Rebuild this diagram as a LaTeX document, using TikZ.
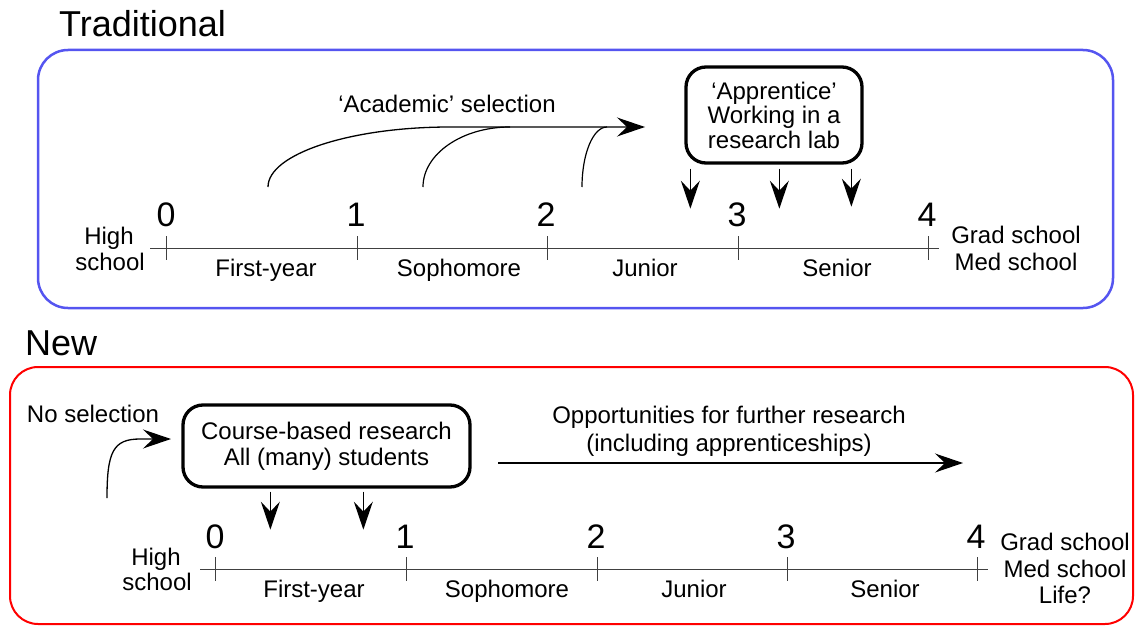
\documentclass[tikz,border=0pt]{standalone}
\usepackage{fontspec}
\setmainfont{Liberation Sans}
\usetikzlibrary{arrows.meta}
\definecolor{framblue}{RGB}{85,85,240}
\definecolor{framred}{RGB}{255,0,0}
\begin{document}
\begin{tikzpicture}[x=1pt,y=-1pt,
  lbl/.style={inner sep=0pt, anchor=base, font=\fontsize{24}{28}\selectfont},
  big/.style={inner sep=0pt, anchor=base west, font=\fontsize{36}{40}\selectfont},
  digit/.style={inner sep=0pt, anchor=base, font=\fontsize{34}{38}\selectfont},
  tline/.style={line width=1pt, draw=black!75},
  arr/.style={line width=1.3pt, -{Stealth[length=28pt,width=19pt,inset=10pt]}},
  curve/.style={line width=1.2pt},
  thickbox/.style={draw, line width=3.3pt, rounded corners=20pt, inner sep=0pt, align=center}]
\useasboundingbox (0,0) rectangle (1135,626);

% frames
\draw[framblue, line width=2.5pt, rounded corners=30pt] (38,50) rectangle (1113,308);
\draw[framred, line width=2pt, rounded corners=28pt] (10,367) rectangle (1133,624);

\node[big] (trad) at (59,37) {Traditional};
\node[big] (new) at (25,355) {New};

% ---------- Traditional ----------
\draw[tline] (150,248) -- (939,248);
\foreach \x in {166,357,547,738,928} \draw[tline] (\x,236) -- (\x,260);
\node[digit] (ta0) at (166,226) {0};
\node[digit] (ta1) at (356,226) {1};
\node[digit] (ta2) at (546,226) {2};
\node[digit] (ta3) at (737,226) {3};
\node[digit] (ta4) at (927,226) {4};
\node[lbl] (tfy) at (266,276) {First-year};
\node[lbl] (tso) at (459,276) {Sophomore};
\node[lbl] (tju) at (645,276) {Junior};
\node[lbl] (tse) at (837,276) {Senior};
\node[lbl] (thi1) at (109,244) {High};
\node[lbl] (thi2) at (110,270) {school};
\node[lbl] (tgr1) at (1016,243) {Grad school};
\node[lbl] (tgr2) at (1016,270) {Med school};

\node[lbl] (acad) at (447,112) {`Academic' selection};
\coordinate (c1) at (268,187);
\coordinate (c2) at (423,187);
\coordinate (c3) at (582,187);
\coordinate (tipA) at (645,127);
\draw[arr] (c1) .. controls (268,154) and (350,127) .. (450,127) -- (tipA);
\draw[curve] (c2) .. controls (423,154) and (462,127) .. (510,127);
\draw[curve] (c3) .. controls (582,154) and (593,127) .. (607,127);

\node[thickbox, minimum width=176pt, minimum height=96pt, font=\fontsize{24}{24.5}\selectfont] (appr) at (774,115) {`Apprentice'\\Working in a\\research lab};
\draw[arr] ([xshift=6pt,yshift=-4pt]appr.south west) -- ++(0,40);
\draw[arr] ([xshift=95pt,yshift=-4pt]appr.south west) -- ++(0,40);
\draw[arr] ([xshift=167pt,yshift=-4pt]appr.south west) -- ++(0,38);

% ---------- New ----------
\node[lbl] (nosel) at (93,422) {No selection};
\node[thickbox, minimum width=287pt, minimum height=82pt, font=\fontsize{24}{26}\selectfont] (course) at (326.5,446) {Course-based research\\All (many) students};
\coordinate (ns) at (107,498);
\coordinate (tipN) at (171,439);
\draw[arr] (ns) .. controls (107,452) and (113,439) .. (140,439) -- (tipN);
\draw[arr] ([xshift=89pt,yshift=-3pt]course.south west) -- ++(0,38);
\draw[arr] ([xshift=182pt,yshift=-3pt]course.south west) -- ++(0,38);

\node[lbl] (opp1) at (729,423) {Opportunities for further research};
\node[lbl] (opp2) at (729,451) {(including apprenticeships)};
\coordinate (oa) at (498,463);
\coordinate (ob) at (963,463);
\draw[arr] (oa) -- (ob);

\draw[tline] (200,569) -- (988,569);
\foreach \x in {215,406,597,787,977} \draw[tline] (\x,557) -- (\x,581);
\node[digit] (na0) at (215,548) {0};
\node[digit] (na1) at (405,548) {1};
\node[digit] (na2) at (596,548) {2};
\node[digit] (na3) at (786,548) {3};
\node[digit] (na4) at (976,548) {4};
\node[lbl] (nfy) at (314,597) {First-year};
\node[lbl] (nso) at (507,597) {Sophomore};
\node[lbl] (nju) at (694,597) {Junior};
\node[lbl] (nse) at (885,597) {Senior};
\node[lbl] (nhi1) at (156,565) {High};
\node[lbl] (nhi2) at (157,590) {school};
\node[lbl] (ngr1) at (1065,550) {Grad school};
\node[lbl] (ngr2) at (1065,577) {Med school};
\node[lbl] (ngr3) at (1065,603) {Life?};
\end{tikzpicture}
\end{document}
